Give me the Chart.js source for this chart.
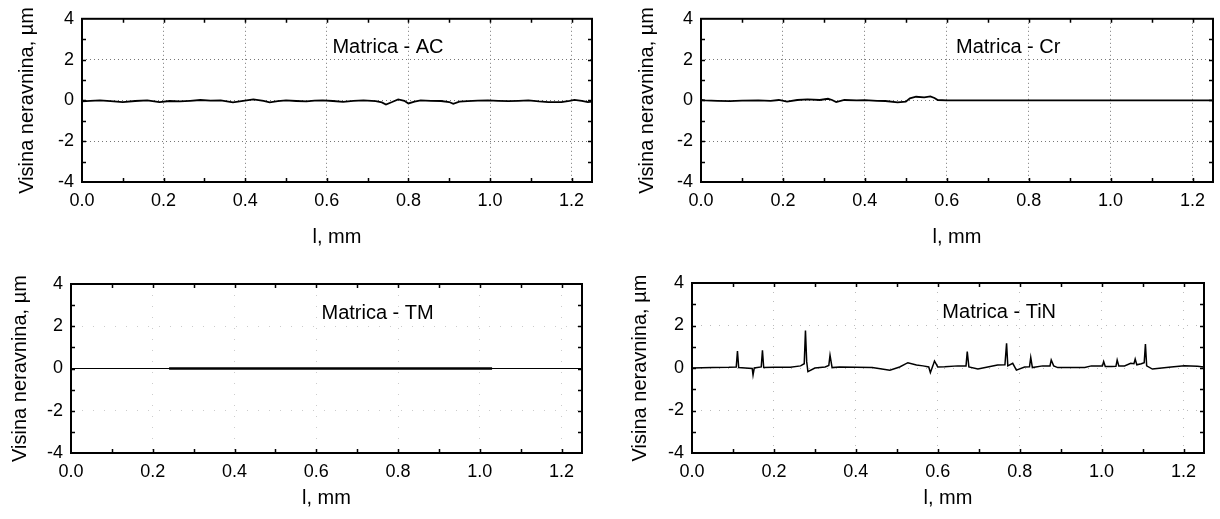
<!DOCTYPE html>
<html>
<head>
<meta charset="utf-8">
<script src="https://cdn.jsdelivr.net/npm/chart.js@4"></script>
<style>
  body { margin: 0; background: #fff; }
  #wrap { position: relative; width: 1220px; height: 519px; overflow: hidden; }
  canvas { position: absolute; }
</style>
</head>
<body>
<div id="wrap">
  <canvas id="chartAC" width="610" height="259" style="left:0;top:0"></canvas>
  <canvas id="chartCr" width="610" height="259" style="left:610px;top:0"></canvas>
  <canvas id="chartTM" width="610" height="260" style="left:0;top:259px"></canvas>
  <canvas id="chartTiN" width="610" height="260" style="left:610px;top:259px"></canvas>
</div>
<script>
// axis ticks
const xTicks = [0, 0.2, 0.4, 0.6, 0.8, 1.0, 1.2];
const yTicks = [-4, -2, 0, 2, 4];
const xMinor = [0.1, 0.2, 0.3, 0.4, 0.5, 0.6, 0.7, 0.8, 0.9, 1.0, 1.1, 1.2];
const yMinor = [-3, -2, -1, 0, 1, 2, 3];

const xLabel = "l, mm";
const yLabel = "Visina neravnina, µm";

// profiles (x in mm, height in µm)
const acX = [0, 0.02, 0.044, 0.07, 0.10, 0.13, 0.16, 0.19, 0.215, 0.24, 0.265, 0.29, 0.315, 0.34, 0.37, 0.395, 0.42, 0.445, 0.46, 0.48, 0.50, 0.525, 0.55, 0.57, 0.59, 0.615, 0.64, 0.665, 0.69, 0.72, 0.735, 0.745, 0.76, 0.775, 0.79, 0.80, 0.815, 0.83, 0.855, 0.88, 0.9, 0.91, 0.925, 0.945, 0.97, 0.995, 1.02, 1.045, 1.07, 1.094, 1.12, 1.143, 1.175, 1.195, 1.207, 1.225, 1.24, 1.25];
const acY = [-0.05, -0.02, 0, -0.04, -0.08, -0.03, 0, -0.08, -0.03, -0.05, -0.02, 0.02, -0.01, 0, -0.1, -0.02, 0.05, -0.02, -0.1, -0.04, 0, -0.03, -0.05, -0.01, 0, -0.03, -0.07, -0.02, 0, -0.04, -0.1, -0.2, -0.08, 0.05, -0.02, -0.15, -0.06, 0, -0.02, -0.03, -0.08, -0.17, -0.06, -0.04, -0.01, 0, -0.02, -0.04, -0.02, 0, -0.05, -0.08, -0.08, -0.02, 0.03, -0.02, -0.08, -0.06];

const crX = [0, 0.01, 0.04, 0.07, 0.1, 0.14, 0.17, 0.19, 0.21, 0.235, 0.26, 0.29, 0.31, 0.32, 0.33, 0.35, 0.38, 0.40, 0.43, 0.45, 0.48, 0.50, 0.51, 0.525, 0.545, 0.56, 0.57, 0.578, 0.6, 1.25];
const crY = [0.02, 0, -0.02, -0.04, -0.01, 0, -0.02, 0.02, -0.06, 0.02, 0.05, 0.02, 0.08, 0.02, -0.08, 0.02, 0, 0.01, -0.02, -0.03, -0.1, -0.06, 0.1, 0.18, 0.15, 0.2, 0.12, 0.02, 0, 0];

const tmX = [0.24, 1.03];
const tmY = [0, 0];
const tmBaseX = [0, 1.25];
const tmBaseY = [0, 0];

const tinX = [0, 0.05, 0.09, 0.108, 0.111, 0.114, 0.13, 0.147, 0.149, 0.152, 0.169, 0.172, 0.175, 0.2, 0.24, 0.265, 0.274, 0.277, 0.28, 0.283, 0.3, 0.325, 0.334, 0.337, 0.342, 0.36, 0.4, 0.44, 0.483, 0.507, 0.527, 0.548, 0.564, 0.578, 0.582, 0.588, 0.592, 0.6, 0.617, 0.649, 0.669, 0.672, 0.676, 0.698, 0.722, 0.746, 0.764, 0.768, 0.771, 0.783, 0.792, 0.812, 0.824, 0.827, 0.831, 0.856, 0.874, 0.877, 0.883, 0.893, 0.959, 0.975, 1.002, 1.005, 1.009, 1.024, 1.035, 1.038, 1.042, 1.056, 1.071, 1.079, 1.082, 1.086, 1.097, 1.104, 1.107, 1.11, 1.124, 1.17, 1.202, 1.234, 1.25];
const tinY = [0, 0.02, 0.03, 0.05, 0.8, 0.02, 0, -0.02, -0.33, 0, 0.05, 0.83, 0.02, 0.03, 0.04, 0.1, 0.2, 1.76, 0.3, -0.17, 0, 0.05, 0.12, 0.6, 0.02, 0.05, 0.03, 0.02, -0.1, 0.05, 0.25, 0.14, 0.1, 0.05, -0.22, 0.1, 0.33, 0.05, 0.06, 0.1, 0.1, 0.77, 0.05, -0.05, 0.05, 0.14, 0.15, 1.16, 0.1, 0.22, -0.1, 0.05, 0.06, 0.5, 0.02, 0.1, 0.1, 0.38, 0.1, 0.02, 0.02, 0.1, 0.1, 0.3, 0.07, 0.07, 0.08, 0.38, 0.1, 0.1, 0.22, 0.2, 0.42, 0.15, 0.2, 0.25, 1.13, 0.1, -0.05, 0.05, 0.1, 0.08, 0.05];

const FONT = "'Liberation Sans', Arial, sans-serif";

let toPoints = (xs, ys) => xs.map((x, i) => ({ x: x, y: ys[i] }));

// frame, inner ticks and the panel caption
const framePlugin = {
  id: 'frame',
  afterDraw(chart, args, opts) {
    const ctx = chart.ctx;
    const a = chart.chartArea;
    const x = chart.scales.x, y = chart.scales.y;
    ctx.save();
    ctx.strokeStyle = '#000';
    ctx.lineWidth = 1.5;
    ctx.beginPath();
    xMinor.forEach(function (v) {
      const px = Math.round(x.getPixelForValue(v)) + 0.5;
      ctx.moveTo(px, a.bottom); ctx.lineTo(px, a.bottom - 4);
      ctx.moveTo(px, a.top); ctx.lineTo(px, a.top + 4);
    });
    yMinor.forEach(function (v) {
      const py = Math.round(y.getPixelForValue(v)) + 0.5;
      ctx.moveTo(a.left, py); ctx.lineTo(a.left + 4, py);
      ctx.moveTo(a.right, py); ctx.lineTo(a.right - 4, py);
    });
    ctx.stroke();
    ctx.lineWidth = 2;
    ctx.strokeRect(a.left, a.top, a.right - a.left, a.bottom - a.top);
    ctx.fillStyle = '#000';
    ctx.font = '20px ' + FONT;
    ctx.textAlign = 'center';
    ctx.textBaseline = 'middle';
    ctx.fillText(opts.title, x.getPixelForValue(0.75), y.getPixelForValue(2.6));
    ctx.restore();
  }
};

function makePanel(id, title, datasets, lay) {
  const ctxL = document.getElementById(id).getContext('2d');
  return new Chart(ctxL, {
    type: 'line',
    data: { datasets: datasets },
    plugins: [framePlugin],
    options: {
      responsive: false,
      animation: false,
      events: [],
      layout: { padding: { left: 0, top: lay.top, right: lay.right, bottom: 0 } },
      plugins: { legend: { display: false }, tooltip: { enabled: false }, frame: { title: title } },
      elements: { point: { radius: 0 }, line: { tension: 0 } },
      scales: {
        x: {
          type: 'linear', min: 0, max: 1.25,
          afterBuildTicks: function (s) { s.ticks = xTicks.map(v => ({ value: v })); },
          afterFit: function (s) { s.height = lay.xh; },
          grid: { color: lay.grid, lineWidth: 1, drawTicks: false },
          border: { display: false, dash: lay.dash },
          ticks: { padding: 8, color: '#000', font: { family: FONT, size: 18 }, maxRotation: 0,
                   callback: v => v.toFixed(1) },
          title: { display: true, text: xLabel, color: '#000', font: { family: FONT, size: 20 },
                   padding: { top: 0, bottom: lay.xtp } }
        },
        y: {
          min: -4, max: 4,
          afterBuildTicks: function (s) { s.ticks = yTicks.map(v => ({ value: v })); },
          afterFit: function (s) { s.width = lay.yw; },
          grid: { color: lay.grid, lineWidth: 1, drawTicks: false },
          border: { display: false, dash: lay.dash },
          ticks: { padding: 8, color: '#000', font: { family: FONT, size: 18 },
                   callback: v => String(v) },
          title: { display: true, text: yLabel, color: '#000', font: { family: FONT, size: 20 },
                   padding: { top: lay.ytp, bottom: 0 } }
        }
      }
    }
  });
}

let lineSet = (xs, ys, w) => ({ data: toPoints(xs, ys), borderColor: '#000', borderWidth: w, fill: false });

makePanel('chartAC', 'Matrica - AC', [lineSet(acX, acY, 1.8)],
  { top: 15, right: 18, xh: 77, yw: 82, xtp: 10, ytp: 15, grid: '#777', dash: [1, 3] });
makePanel('chartCr', 'Matrica - Cr', [lineSet(crX, crY, 1.8)],
  { top: 13, right: 7, xh: 77, yw: 91, xtp: 10, ytp: 25, grid: '#777', dash: [1, 3] });
makePanel('chartTM', 'Matrica - TM', [lineSet(tmBaseX, tmBaseY, 1.2), lineSet(tmX, tmY, 2.6)],
  { top: 25, right: 28, xh: 66, yw: 71, xtp: 9, ytp: 8, grid: '#ccc', dash: [1, 10] });
makePanel('chartTiN', 'Matrica - TiN', [lineSet(tinX, tinY, 1.5)],
  { top: 24, right: 16, xh: 66, yw: 82, xtp: 9, ytp: 18, grid: '#bbb', dash: [1, 8] });
</script>
</body>
</html>
